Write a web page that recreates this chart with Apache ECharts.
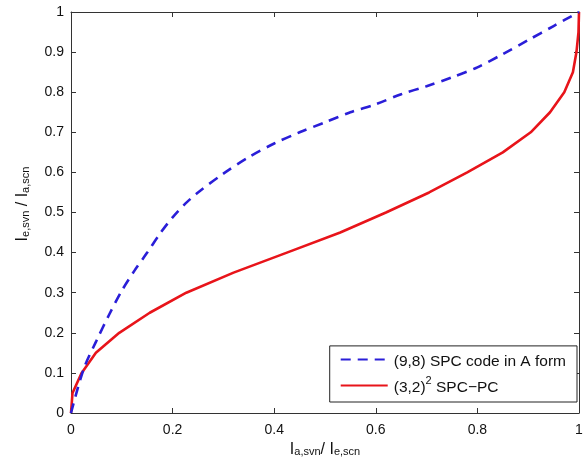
<!DOCTYPE html>
<html><head><meta charset="utf-8">
<script src="https://cdn.jsdelivr.net/npm/echarts@6/dist/echarts.min.js"></script>
<style>html,body{margin:0;padding:0;background:#fff}#c{width:585px;height:463px}</style>
</head><body><div id="c"></div>
<script>
var seriesNames = ['(9,8) SPC code in A form', '(3,2)2 SPC-PC'];
var blueX = [0, 0.025, 0.05, 0.075, 0.1, 0.125, 0.15, 0.175, 0.2, 0.225, 0.25, 0.3, 0.35, 0.4, 0.45, 0.5, 0.55, 0.6, 0.65, 0.7, 0.75, 0.8, 0.85, 0.9, 0.95, 1];
var blueY = [0, 0.11, 0.18, 0.245, 0.305, 0.355, 0.40, 0.447, 0.488, 0.522, 0.55, 0.597, 0.638, 0.672, 0.70, 0.725, 0.75, 0.77, 0.795, 0.815, 0.837, 0.862, 0.895, 0.93, 0.965, 1];
var redX = [0, 0.003, 0.021, 0.049, 0.095, 0.155, 0.227, 0.32, 0.425, 0.53, 0.62, 0.705, 0.78, 0.85, 0.905, 0.943, 0.971, 0.988, 0.995, 0.999, 1];
var redY = [0, 0.05, 0.1, 0.15, 0.2, 0.25, 0.3, 0.35, 0.4, 0.45, 0.5, 0.55, 0.6, 0.65, 0.7, 0.75, 0.8, 0.85, 0.9, 0.95, 1];
var xTicks = [0, 0.2, 0.4, 0.6, 0.8, 1];
var yTicks = [0, 0.1, 0.2, 0.3, 0.4, 0.5, 0.6, 0.7, 0.8, 0.9, 1];

function pairs(xs, ys) { return xs.map(function (x, i) { return [x, ys[i]]; }); }
var FONT = 'Liberation Sans, Arial, sans-serif';
var axisCol = '#333';
var labelFmt = function (v) { return String(+v.toFixed(1)); };
var rich = {
  m: { fontSize: 16, fontFamily: FONT, color: '#111', lineHeight: 16, verticalAlign: 'bottom' },
  s: { fontSize: 11, fontFamily: FONT, color: '#111', lineHeight: 8, verticalAlign: 'bottom' }
};
function baseAxis(extra) {
  var a = {
    type: 'value', min: 0, max: 1,
    axisLine: { show: true, onZero: false, lineStyle: { color: axisCol, width: 1 } },
    axisTick: { show: true, inside: true, length: 5, lineStyle: { color: axisCol } },
    splitLine: { show: false },
    axisLabel: { show: false }
  };
  for (var k in extra) a[k] = extra[k];
  return a;
}
var chart = echarts.init(document.getElementById('c'), null, { renderer: 'canvas' });
chart.setOption({
  animation: false,
  backgroundColor: '#fff',
  grid: { left: 71, right: 6, top: 12, bottom: 50, containLabel: false, outerBoundsMode: 'none' },
  xAxis: [
    baseAxis({ position: 'bottom', interval: 0.2,
      axisLabel: { show: true, fontSize: 14, fontFamily: FONT, color: '#111', margin: 10, formatter: labelFmt },
      name: '{m|I}{s|a,svn}{m|/ I}{s|e,scn}', nameLocation: 'middle', nameGap: 26,
      nameTextStyle: { rich: rich } }),
    baseAxis({ position: 'top', interval: 0.2 })
  ],
  yAxis: [
    baseAxis({ position: 'left', interval: 0.1,
      axisLabel: { show: true, fontSize: 14, fontFamily: FONT, color: '#111', margin: 7, formatter: labelFmt },
      name: '{m|I}{s|e,svn}{m| / I}{s|a,scn}', nameLocation: 'middle', nameGap: 40, nameRotate: 90,
      nameTextStyle: { rich: rich, padding: [0, 0, 0, 17] } }),
    baseAxis({ position: 'right', interval: 0.1 })
  ],
  legend: {
    orient: 'vertical', right: 8, bottom: 61,
    backgroundColor: '#fff', borderColor: '#222', borderWidth: 1,
    padding: [8, 11, 6, 10], itemGap: 5, itemWidth: 47, itemHeight: 14,
    itemStyle: { opacity: 0 },
    data: seriesNames,
    formatter: function (n) {
      if (n === seriesNames[1]) return '{t|(3,2)}{p|2}{t| SPC\u2212PC}';
      return '{t|' + n + '}';
    },
    textStyle: {
      padding: [0, 0, 0, 1],
      rich: {
        t: { fontSize: 15.5, fontFamily: FONT, color: '#111', lineHeight: 21, verticalAlign: 'bottom' },
        p: { fontSize: 11, fontFamily: FONT, color: '#111', lineHeight: 21, verticalAlign: 'top' }
      }
    }
  },
  series: [
    { name: seriesNames[0], type: 'line', data: pairs(blueX, blueY), symbol: 'none', smooth: 0.3,
      lineStyle: { color: '#2a1ed8', width: 2.6, type: [10, 7] }, itemStyle: { color: '#2a1ed8' }, z: 3 },
    { name: seriesNames[1], type: 'line', data: pairs(redX, redY), symbol: 'none', smooth: false,
      lineStyle: { color: '#e8141a', width: 2.6 }, itemStyle: { color: '#e8141a' }, z: 2 }
  ]
});
</script></body></html>
